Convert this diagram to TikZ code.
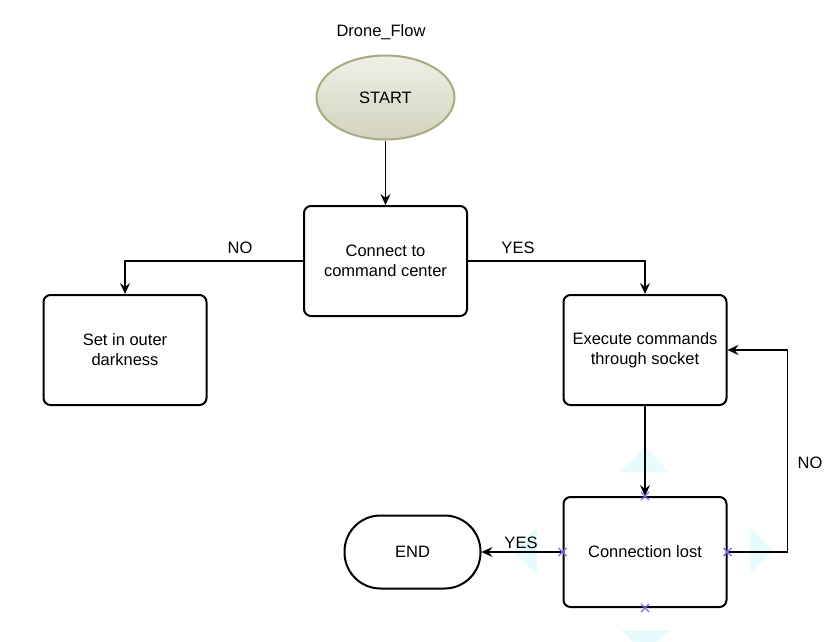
\documentclass[tikz,border=0pt]{standalone}
\usepackage{fontspec}
\setmainfont{Liberation Sans}
\usetikzlibrary{shapes.geometric, arrows.meta, calc}

\definecolor{startfill}{HTML}{EFEFE6}
\definecolor{startshade}{HTML}{D3D3BE}
\definecolor{startline}{HTML}{A9A982}
\definecolor{markblue}{HTML}{7070F0}
\definecolor{hintcyan}{HTML}{E6FBFB}

\tikzset{
  txt/.style={font=\fontsize{16.5}{20}\selectfont, align=center},
  box/.style={txt, draw, line width=2pt, rounded corners=7pt,
    minimum width=163pt, minimum height=110pt, inner sep=0pt},
  flow/.style={line width=1.7pt, -{Stealth[length=11pt, width=10pt, inset=4pt]}},
  hint/.style={fill=hintcyan, draw=none},
  cross/.style={markblue, line width=1.3pt}
}

\begin{document}
\begin{tikzpicture}[x=1pt, y=-1pt]
    \useasboundingbox (0,0) rectangle (832,642);
    % selection hints
    \fill[hint] (645,447) -- (669,472) -- (621,472) -- cycle;
    \fill[hint] (773,551) -- (750,527) -- (750,575) -- cycle;
    \fill[hint] (513,551) -- (537,527) -- (537,575) -- cycle;
    \fill[hint] (621,630) -- (669,630) -- (657,642) -- (633,642) -- cycle;
    % shapes
    \node[txt] (title) at (381,32) {Drone\_Flow};
    \node[txt, ellipse, draw=startline, line width=2pt, top color=startfill,
      bottom color=startshade, minimum width=138pt, minimum height=84pt]
      (start) at (385.5,97.5) {START};
    \node[box] (connect) at (385.5,261) {Connect to\\command center};
    \node[box] (outer) at (125,350) {Set in outer\\darkness};
    \node[box] (execute) at (645,350) {Execute commands\\through socket};
    \node[box] (lost) at (645,552) {Connection lost};
    \node[txt, draw, line width=2pt, rounded corners=36pt, minimum width=136pt,
      minimum height=73pt] (end) at (412.5,552) {END};
    % connectors
    \draw[flow] (start) -- (connect);
    \draw[flow] (connect.west) -| (outer.north);
    \draw[flow] (connect.east) -| (execute.north);
    \draw[flow] (execute) -- (lost);
    \draw[flow] (lost.east) -- ++(60,0) |- (execute.east);
    \draw[flow] (lost.west) -- (end.east);
    % labels
    \node[txt] (no1) at (240,248) {NO};
    \node[txt] (yes1) at (518,248) {YES};
    \node[txt] (no2) at (810,463) {NO};
    \node[txt] (yes2) at (521,543) {YES};
    % connection points
    \foreach \p in {lost.north, lost.east, lost.west, lost.south} {
      \draw[cross] ($(\p)+(-4,-4)$) -- ($(\p)+(4,4)$);
      \draw[cross] ($(\p)+(-4,4)$) -- ($(\p)+(4,-4)$);
    }
\end{tikzpicture}
\end{document}
